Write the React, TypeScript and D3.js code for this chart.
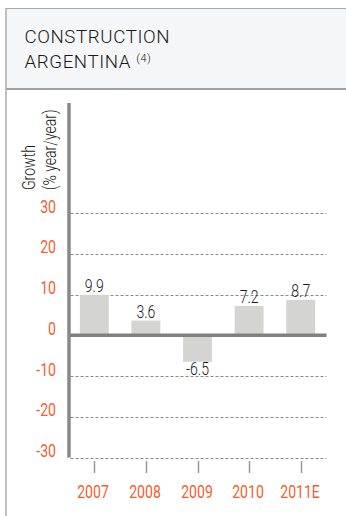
import React from "react";
import * as d3 from "d3";

const categories = ["2007", "2008", "2009", "2010", "2011E"];
const values = [9.9, 3.6, -6.5, 7.2, 8.7];
const yTicks = [30, 20, 10, 0, -10, -20, -30];

const W = 346;
const H = 516;
const ORANGE = "#f2602e";
const FONT = "Roboto, 'Liberation Sans', Arial, sans-serif";
const SX = 0.78;

function NText(props: { x: number; y: number; anchor?: string; fill?: string; size?: number; weight?: number; rotate?: boolean; children: React.ReactNode }) {
  const { x, y, anchor = "start", fill = "#1a1a1a", size = 18, weight = 300, rotate = false, children } = props;
  return (
    <text
      transform={`translate(${x},${y})${rotate ? " rotate(-90)" : ""} scale(${SX},1)`}
      textAnchor={anchor}
      fontFamily={FONT}
      fontWeight={weight}
      fontSize={size}
      fill={fill}
    >
      {children}
    </text>
  );
}

export default function App() {
  const x0 = 68.5;
  const x1 = 326.5;
  const x = d3.scaleBand<string>().domain(categories).range([x0, x1]).paddingInner(0.44).paddingOuter(0.22);
  const y = d3.scaleLinear().domain([-30, 30]).range([457.5, 213]);

  return (
    <svg width={W} height={H} style={{ position: "absolute", left: 0, top: 0, background: "#fff" }}>
      {/* header */}
      <rect x={6} y={8} width={W} height={81} fill="#f5f6f7" />
      <line x1={6} y1={8.5} x2={W} y2={8.5} stroke="#a9a9a9" strokeWidth={1} />
      <line x1={6} y1={89} x2={W} y2={89} stroke="#a0a0a0" strokeWidth={2} />
      <line x1={6} y1={8} x2={6} y2={H} stroke="#acacac" strokeWidth={1.5} />
      <text x={24.5} y={43.3} fontFamily={FONT} fontWeight={300} fontSize={18.7} fill="#1a1a1a" letterSpacing={0.6}>CONSTRUCTION</text>
      <text x={24.5} y={68} fontFamily={FONT} fontWeight={300} fontSize={18.7} fill="#1a1a1a" letterSpacing={0.6}>
        ARGENTINA <tspan fontSize={11.5} dy={-6} letterSpacing={0.3}>(4)</tspan>
      </text>

      {/* axis title */}
      <NText x={35} y={190} rotate>Growth</NText>
      <NText x={56} y={190} rotate>(% year/year)</NText>

      {/* gridlines */}
      {yTicks.filter((t) => t !== 0).map((t) => (
        <line key={"g" + t} x1={x0 + 2} x2={x1} y1={Math.round(y(t)) + 0.5} y2={Math.round(y(t)) + 0.5}
          stroke="#8a8a8a" strokeWidth={1} strokeDasharray="3,2" />
      ))}

      {/* bars */}
      {values.map((v, i) => (
        <rect key={"b" + i} x={x(categories[i])!} width={x.bandwidth()}
          y={y(Math.max(0, v))} height={Math.abs(y(v) - y(0))} fill="#d4d4d2" />
      ))}

      {/* zero line */}
      <line x1={x0} x2={x1} y1={y(0)} y2={y(0)} stroke="#808080" strokeWidth={3.5} />
      {/* y axis */}
      <line x1={69} x2={69} y1={103} y2={y(-30)} stroke="#888" strokeWidth={3.5} />

      {/* y tick labels */}
      {yTicks.map((t) => (
        <NText key={"yl" + t} x={56} y={y(t) - 0.5} anchor="end" fill={ORANGE} weight={400}>{t}</NText>
      ))}

      {/* value labels */}
      {values.map((v, i) => (
        <NText key={"v" + i} x={x(categories[i])! + x.bandwidth() / 2}
          y={v >= 0 ? y(v) - 3 : y(v) + 13} anchor="middle">
          {v.toFixed(1)}
        </NText>
      ))}

      {/* x ticks & labels */}
      {categories.map((c) => {
        const cx = Math.round(x(c)! + x.bandwidth() / 2) + 0.5;
        return (
          <g key={"x" + c}>
            <line x1={cx} x2={cx} y1={461} y2={473} stroke="#999" strokeWidth={1.5} />
            <NText x={cx - 1.5} y={498.3} anchor="middle" fill={ORANGE} weight={400}>{c}</NText>
          </g>
        );
      })}
    </svg>
  );
}
